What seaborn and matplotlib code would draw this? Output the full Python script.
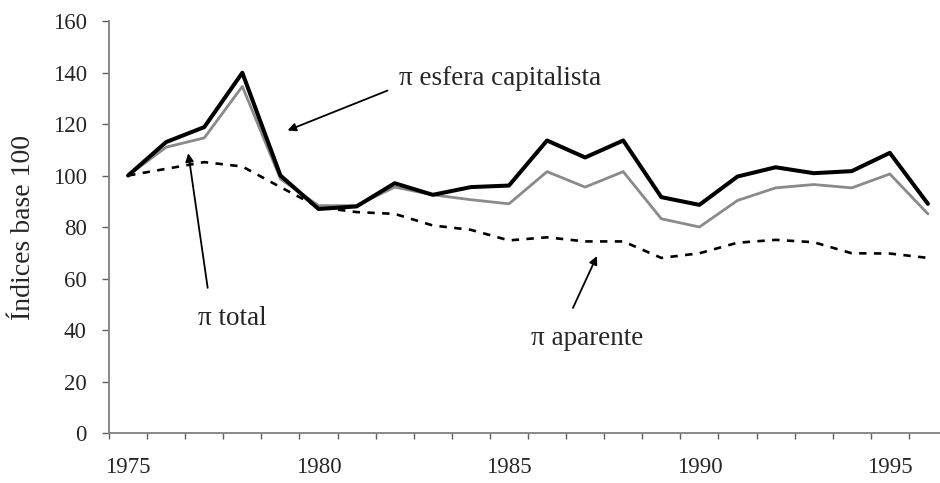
import numpy as np
import pandas as pd
import matplotlib
matplotlib.use("Agg")
import matplotlib.pyplot as plt
import seaborn as sns

# Data (index, base 1975 = 100)
years = list(range(1975, 1997))
pi_capitalista = [100, 113, 118.8, 139.9, 100, 87, 88, 97, 92.5, 95.5, 96.1,
                  113.6, 107, 113.6, 91.6, 88.6, 99.6, 103.2, 100.9, 101.7, 108.8, 89]
pi_total = [100, 111, 114.6, 134.6, 98.7, 88.3, 88.3, 95.5, 92.5, 90.6, 89,
            101.5, 95.5, 101.5, 83.2, 80, 90.3, 95.2, 96.5, 95.2, 100.6, 85.1]
pi_aparente = [100, 102.6, 105.2, 103.5, 95.5, 87.7, 85.8, 85.1, 80.6, 78.9, 74.8,
               76, 74.4, 74.4, 68, 69.8, 73.9, 75, 74.1, 69.8, 69.7, 68]
year_labels = [1975, 1980, 1985, 1990, 1995]
y_ticks = [0, 20, 40, 60, 80, 100, 120, 140, 160]

df = pd.DataFrame({"year": years, "capitalista": pi_capitalista,
                   "total": pi_total, "aparente": pi_aparente})

sns.set_theme(style="white")
plt.rcParams["font.family"] = ["Liberation Serif", "DejaVu Serif"]

fig = plt.figure(figsize=(9.4, 4.83), dpi=100)
ax = fig.add_axes([0.116, 0.1035, 0.8914, 0.853])

sns.lineplot(data=df, x="year", y="aparente", ax=ax, color="black",
             linewidth=1.9, linestyle=(0, (2.8, 2.8)))
sns.lineplot(data=df, x="year", y="total", ax=ax, color="#8a8a8a", linewidth=2.0)
sns.lineplot(data=df, x="year", y="capitalista", ax=ax, color="black", linewidth=2.9)

ax.set_xlim(1974.5, 1996.5)
ax.set_ylim(0, 160)

# category-style axis: tick marks between years, labels every 5 years
ax.set_xticks(year_labels)
ax.set_xticks(np.arange(1974.5, 1997, 1), minor=True)
ax.tick_params(axis="x", which="major", length=0, pad=17, labelsize=16.5)
ax.tick_params(axis="x", which="minor", bottom=True, direction="out",
               length=4, width=1, color="#606060")
ax.set_yticks(y_ticks)
ax.tick_params(axis="y", left=True, direction="out", length=5, width=1,
               color="#606060", pad=11, labelsize=16.5)

for side in ["top", "right"]:
    ax.spines[side].set_visible(False)
for side in ["left", "bottom"]:
    ax.spines[side].set_color("#808080")
    ax.spines[side].set_linewidth(1.3)

ax.set_xlabel("")
ax.set_ylabel("Índices base 100", fontsize=20, labelpad=12)

# annotations
arrow = dict(arrowstyle="-|>", color="black", lw=1.3, mutation_scale=12)
ax.text(1984.76, 137.7, "π esfera capitalista", ha="center", va="center", fontsize=19.5)
ax.annotate("", xy=(1979.12, 117.1), xytext=(1981.88, 133.4), arrowprops=arrow)

ax.text(1977.73, 44.5, "π total", ha="center", va="center", fontsize=19.5)
ax.annotate("", xy=(1976.57, 109.7), xytext=(1977.1, 55.3), arrowprops=arrow)

ax.text(1987.05, 36.7, "π aparente", ha="center", va="center", fontsize=19.5)
ax.annotate("", xy=(1987.34, 69.7), xytext=(1986.65, 47.6), arrowprops=arrow)

fig.savefig("out.png", dpi=100)
